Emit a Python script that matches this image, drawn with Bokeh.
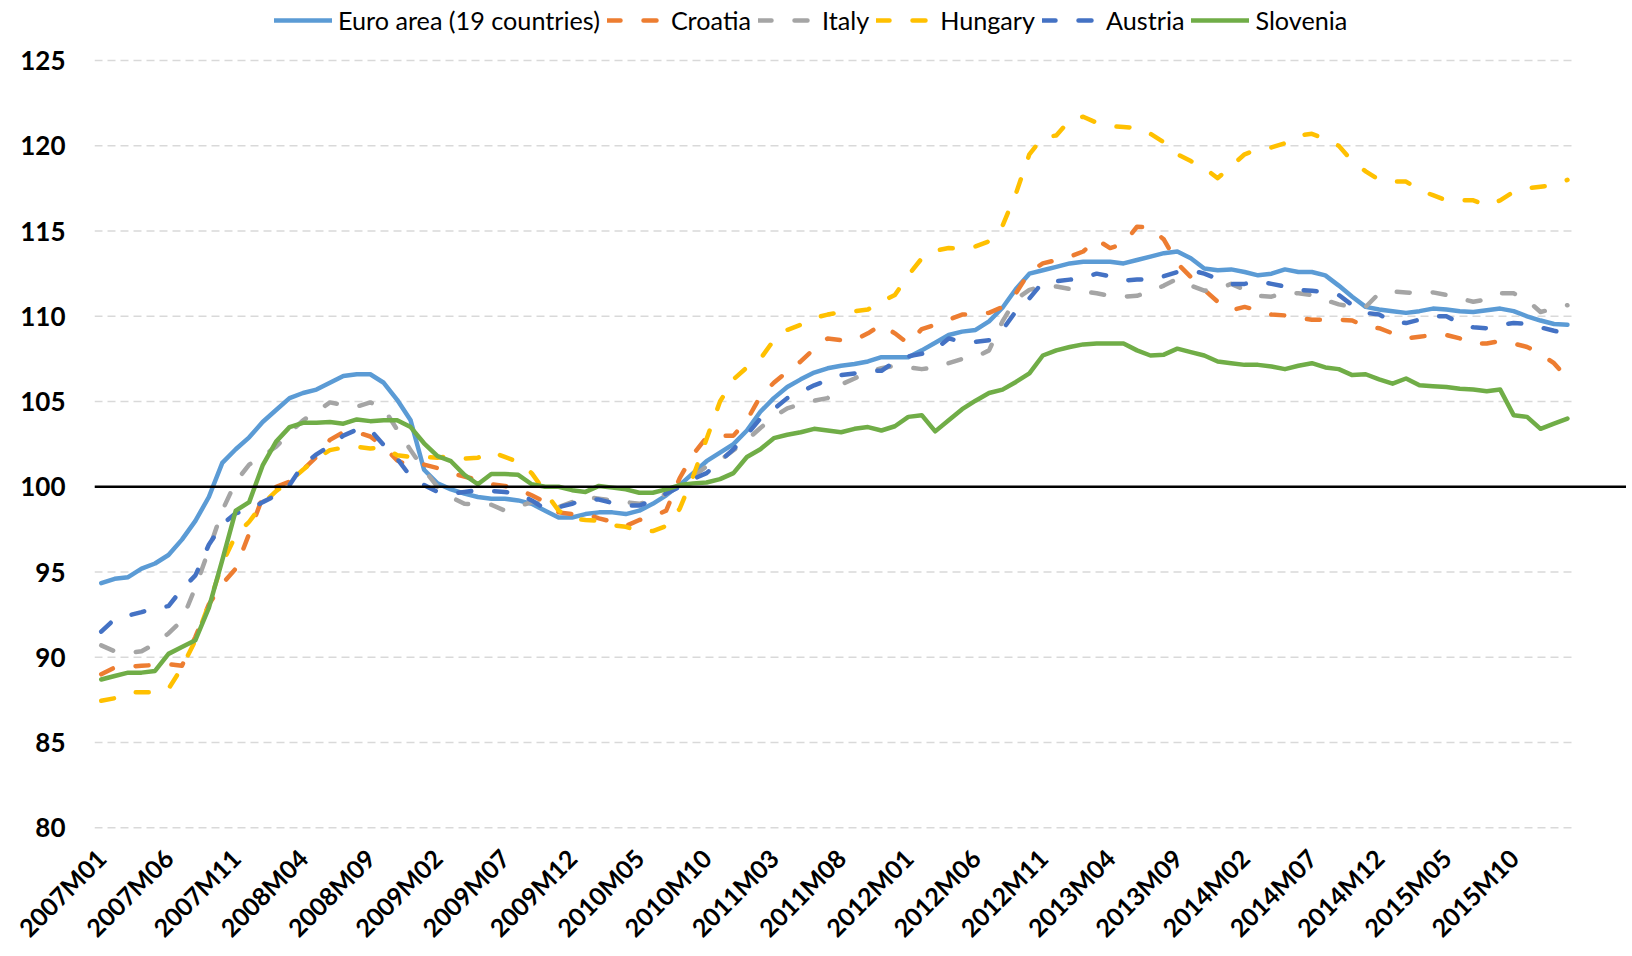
import math
from bokeh.plotting import figure
from bokeh.models import Range1d, FixedTicker, Span, Legend, LegendItem, ColumnDataSource
from bokeh.embed import file_html
from bokeh.resources import INLINE

# ---------------- data ----------------
start_year = 2007
n_months = 110  # 2007M01 .. 2016M02
months = [f"{start_year + i // 12}M{i % 12 + 1:02d}" for i in range(n_months)]

tick_labels = ["2007M01", "2007M06", "2007M11", "2008M04", "2008M09", "2009M02",
               "2009M07", "2009M12", "2010M05", "2010M10", "2011M03", "2011M08",
               "2012M01", "2012M06", "2012M11", "2013M04", "2013M09", "2014M02",
               "2014M07", "2014M12", "2015M05", "2015M10"]
y_ticks = [80, 85, 90, 95, 100, 105, 110, 115, 120, 125]
baseline = 100

euro_area = [
    94.35, 94.6, 94.7, 95.2, 95.5, 96.0, 96.9, 98.0, 99.4, 101.4,
    102.2, 102.9, 103.8, 104.5, 105.2, 105.5, 105.7, 106.1, 106.5, 106.6,
    106.6, 106.1, 105.1, 103.9, 101.0, 100.2, 99.85, 99.6, 99.4, 99.3,
    99.3, 99.2, 99.0, 98.6, 98.2, 98.2, 98.4, 98.5, 98.5, 98.4,
    98.6, 99.0, 99.5, 100.1, 100.8, 101.5, 102.0, 102.5, 103.3, 104.4,
    105.2, 105.85, 106.3, 106.7, 106.95, 107.1, 107.2, 107.35, 107.6, 107.6,
    107.6, 108.0, 108.45, 108.9, 109.1, 109.2, 109.7, 110.5, 111.6, 112.5,
    112.7, 112.9, 113.1, 113.2, 113.2, 113.2, 113.1, 113.3, 113.5, 113.7,
    113.8, 113.4, 112.8, 112.7, 112.75, 112.6, 112.4, 112.5, 112.75, 112.6,
    112.6, 112.4, 111.8, 111.15, 110.55, 110.4, 110.3, 110.2, 110.3, 110.45,
    110.4, 110.3, 110.25, 110.35, 110.45, 110.3, 110.0, 109.75, 109.55, 109.5]

croatia = [
    89.0, 89.4, 89.45, 89.5, 89.55, 89.6, 89.5, 91.2, 93.1, 94.3,
    95.2, 97.25, 99.4, 100.0, 100.3, 101.0, 101.75, 102.75, 103.2, 103.2,
    102.95, 102.35, 101.55, 101.2, 101.3, 101.1, 100.8, 100.6, 100.4, 100.15,
    100.05, 99.85, 99.5, 99.1, 98.5, 98.4, 98.4, 98.15, 97.95, 97.7,
    98.05, 98.25, 98.6, 100.5, 101.9, 102.9, 103.0, 103.0, 103.9, 105.3,
    106.1, 106.75, 107.35, 108.1, 108.7, 108.6, 108.6, 109.0, 109.5, 109.0,
    108.4, 109.25, 109.5, 109.8, 110.1, 110.15, 110.2, 110.55, 111.35, 112.6,
    113.1, 113.3, 113.5, 113.8, 114.5, 114.0, 114.25, 115.25, 115.2, 114.5,
    113.1, 112.3, 111.55, 110.85, 110.35, 110.55, 110.35, 110.1, 110.05, 109.9,
    109.8, 109.8, 109.8, 109.75, 109.4, 109.3, 109.0, 108.7, 108.8, 108.9,
    108.9, 108.7, 108.4, 108.4, 108.55, 108.4, 108.2, 107.8, 107.25, 106.35]

italy = [
    90.7, 90.35, 90.25, 90.35, 90.8, 91.4, 92.15, 94.1, 96.3, 98.6,
    100.3, 101.3, 101.8, 102.35, 103.15, 103.9, 104.4, 104.95, 104.8, 104.7,
    104.95, 104.6, 103.35, 102.15, 101.0, 100.0, 99.4, 99.0, 98.95, 98.95,
    98.6, 98.85, 99.1, 99.0, 98.8, 99.1, 99.4, 99.3, 99.2, 99.1,
    99.0, 99.2, 99.6, 100.1, 100.6, 101.2, 101.55, 102.15, 102.75, 103.45,
    104.1, 104.6, 104.85, 105.05, 105.2, 106.0, 106.35, 106.75, 106.95, 107.1,
    107.0, 106.9, 107.0, 107.25, 107.5, 107.6, 108.0, 109.7, 111.0, 111.55,
    111.75, 111.75, 111.6, 111.45, 111.35, 111.2, 111.15, 111.2, 111.45, 111.8,
    112.2, 111.8, 111.5, 111.6, 111.9, 111.55, 111.2, 111.15, 111.4, 111.35,
    111.25, 110.95, 110.7, 110.55, 110.55, 111.35, 111.45, 111.4, 111.35, 111.4,
    111.25, 111.05, 110.85, 111.0, 111.35, 111.35, 110.95, 110.25, 110.45, 110.65]

hungary = [
    87.45, 87.6, 87.95, 87.95, 87.95, 88.15, 89.4, 91.0, 93.1, 95.5,
    97.15, 97.95, 99.0, 99.75, 100.3, 101.0, 101.65, 102.15, 102.3, 102.35,
    102.25, 102.3, 101.85, 101.75, 101.75, 101.7, 101.8, 101.65, 101.7, 102.05,
    101.75, 101.45, 100.8, 99.7, 98.6, 98.15, 98.05, 98.0, 97.75, 97.65,
    97.4, 97.4, 97.7, 98.7, 100.6, 102.8, 105.0, 106.3, 107.0, 107.5,
    108.6, 109.2, 109.5, 109.9, 110.1, 110.25, 110.3, 110.4, 110.85, 111.25,
    112.4, 113.4, 113.85, 114.0, 113.95, 114.1, 114.4, 115.3, 117.2, 119.5,
    120.5, 120.6, 121.5, 121.7, 121.35, 121.15, 121.1, 121.05, 120.7, 120.2,
    119.5, 119.1, 118.7, 118.1, 118.8, 119.5, 119.8, 119.9, 120.15, 120.6,
    120.7, 120.4, 120.0, 119.1, 118.5, 118.0, 117.9, 117.9, 117.4, 117.1,
    116.8, 116.8, 116.8, 116.5, 116.8, 117.3, 117.5, 117.6, 117.7, 118.0]

austria = [
    91.5, 92.25, 92.45, 92.65, 92.9, 93.0, 94.0, 94.8, 96.6, 97.8,
    98.45, 98.65, 99.1, 99.5, 100.1, 101.3, 101.9, 102.4, 103.0, 103.35,
    103.35, 102.45, 101.65, 100.6, 100.1, 99.7, 99.6, 99.7, 99.8, 99.75,
    99.7, 99.6, 99.2, 98.7, 98.8, 99.0, 99.3, 99.25, 99.05, 98.9,
    98.9, 99.2, 99.6, 100.0, 100.45, 100.8, 101.5, 102.2, 103.05, 104.0,
    104.55, 105.2, 105.55, 105.95, 106.25, 106.55, 106.65, 106.8, 106.8, 107.35,
    107.65, 107.8, 108.05, 108.7, 108.5, 108.5, 108.6, 109.2, 110.3, 111.05,
    112.0, 112.05, 112.15, 112.25, 112.5, 112.35, 112.1, 112.15, 112.15, 112.35,
    112.6, 112.7, 112.5, 112.2, 111.9, 111.9, 112.05, 111.9, 111.75, 111.55,
    111.5, 111.4, 111.25, 110.65, 110.2, 110.1, 109.7, 109.6, 109.8, 110.0,
    110.0, 109.6, 109.35, 109.3, 109.5, 109.6, 109.55, 109.35, 109.15, 109.0]

slovenia = [
    88.7, 88.9, 89.1, 89.1, 89.2, 90.2, 90.6, 91.0, 92.9, 95.7,
    98.6, 99.1, 101.25, 102.65, 103.5, 103.75, 103.75, 103.8, 103.7, 103.95,
    103.85, 103.9, 103.9, 103.5, 102.55, 101.8, 101.5, 100.7, 100.15, 100.75,
    100.75, 100.7, 100.15, 100.0, 100.0, 99.8, 99.7, 100.05, 99.95, 99.85,
    99.65, 99.65, 99.85, 100.1, 100.2, 100.25, 100.45, 100.8, 101.75, 102.2,
    102.85, 103.05, 103.2, 103.4, 103.3, 103.2, 103.4, 103.5, 103.3, 103.55,
    104.1, 104.2, 103.25, 103.9, 104.55, 105.05, 105.5, 105.7, 106.15, 106.65,
    107.7, 108.0, 108.2, 108.35, 108.4, 108.4, 108.4, 108.0, 107.7, 107.75,
    108.1, 107.9, 107.7, 107.35, 107.25, 107.15, 107.15, 107.05, 106.9, 107.1,
    107.25, 107.0, 106.9, 106.55, 106.6, 106.3, 106.05, 106.35, 105.95, 105.9,
    105.85, 105.75, 105.7, 105.6, 105.7, 104.2, 104.1, 103.4, 103.7, 104.0]

series_names = ["Euro area (19 countries)", "Croatia", "Italy", "Hungary", "Austria", "Slovenia"]
series_values = [euro_area, croatia, italy, hungary, austria, slovenia]
series_colors = ["#5B9BD5", "#ED7D31", "#A5A5A5", "#FFC000", "#4472C4", "#70AD47"]
series_dashed = [False, True, True, True, True, False]

# ---------------- figure ----------------
W, H = 1626, 956
x_idx = list(range(n_months))

p = figure(width=W, height=H, output_backend="svg", toolbar_location=None,
           x_range=Range1d(-0.5, 113.39), y_range=Range1d(79.9, 128.52),
           min_border_left=94, min_border_right=0, min_border_top=0,
           min_border_bottom=127)
p.outline_line_color = None
p.background_fill_color = "white"
p.border_fill_color = "white"
p.xgrid.visible = False
p.ygrid.visible = False

# horizontal dashed gridlines, limited to the category span
grid_src = ColumnDataSource(dict(x0=[-0.5] * len(y_ticks), x1=[n_months - 0.5] * len(y_ticks), y=y_ticks))
p.segment(x0="x0", x1="x1", y0="y", y1="y", source=grid_src,
          line_color="#D9D9D9", line_width=1.6, line_dash="8 5")

legend_items = []
for name, vals, col, dashed in zip(series_names, series_values, series_colors, series_dashed):
    r = p.line(x_idx, vals, line_color=col, line_width=4.5,
               line_dash="13 23" if dashed else "solid",
               line_cap="round", line_join="round")
    legend_items.append(LegendItem(label=name, renderers=[r]))

p.add_layout(Span(location=baseline, dimension="width", line_color="black", line_width=2.6))

FONT = "Lato"

# axes
tick_pos = [months.index(t) for t in tick_labels]
p.xaxis.ticker = FixedTicker(ticks=tick_pos)
p.xaxis.major_label_overrides = {k: t for k, t in zip(tick_pos, tick_labels)}
p.xaxis.major_label_orientation = math.pi / 4
p.xaxis.axis_line_color = None
p.xaxis.major_tick_line_color = None
p.xaxis.minor_tick_line_color = None
p.xaxis.major_tick_out = 0
p.xaxis.major_tick_in = 0
p.xaxis.major_label_standoff = 24
p.xaxis.major_label_text_font = FONT
p.xaxis.major_label_text_font_style = "bold"
p.xaxis.major_label_text_font_size = "25px"
p.xaxis.major_label_text_color = "black"

p.yaxis.ticker = FixedTicker(ticks=y_ticks)
p.yaxis.axis_line_color = None
p.yaxis.major_tick_line_color = None
p.yaxis.minor_tick_line_color = None
p.yaxis.major_tick_out = 0
p.yaxis.major_tick_in = 0
p.yaxis.major_label_standoff = 29
p.yaxis.major_label_text_font = FONT
p.yaxis.major_label_text_font_style = "bold"
p.yaxis.major_label_text_font_size = "26px"
p.yaxis.major_label_text_color = "black"

legend = Legend(items=legend_items, orientation="horizontal", location=(180, 794),
                glyph_width=58, glyph_height=24, label_standoff=6, spacing=7,
                padding=0, margin=0, border_line_color=None, background_fill_alpha=0,
                label_text_font=FONT, label_text_font_size="25.2px",
                label_text_color="black", label_height=24)
p.add_layout(legend)

open("out.html", "w").write(file_html(p, INLINE))
